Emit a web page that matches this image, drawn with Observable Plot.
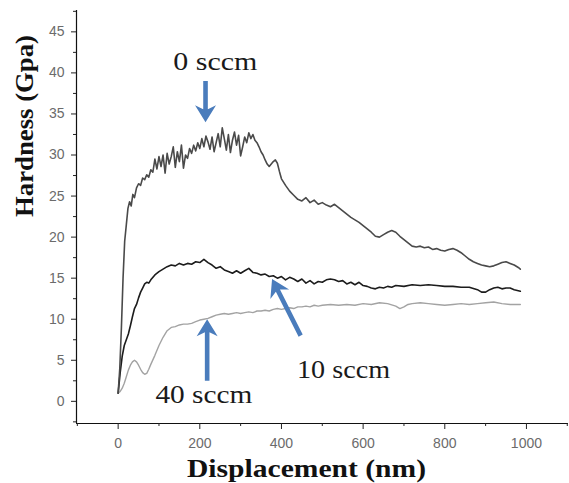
<!DOCTYPE html>
<html>
<head>
<meta charset="utf-8">
<script src="https://cdn.jsdelivr.net/npm/d3@7"></script>
<script src="https://cdn.jsdelivr.net/npm/@observablehq/plot@0.6"></script>
<style>
  html, body { margin: 0; padding: 0; background: #fff; }
  #chart { width: 569px; height: 483px; }
</style>
</head>
<body>
<div id="chart"></div>
<script>
// ---- Data ----
const disp0 = [0,4,8,12,16,20,24,28,32,36,40,45,50,55,60,65,70,75,80,85,90,95,100,105,110,115,120,125,130,135,140,145,150,155,160,165,170,175,180,185,190,195,200,205,210,215,220,225,230,235,240,245,250,255,260,265,270,275,280,285,290,295,300,305,310,315,320,325,330,335,340,345,350,355,360,365,370,375,380,385,390,395,400,410,420,430,440,450,460,470,480,490,500,510,520,530,540,550,560,570,580,590,600,610,620,630,640,650,660,670,680,690,700,710,720,730,740,750,760,770,780,790,800,810,820,830,840,850,860,870,880,890,900,910,920,930,940,950,960,970,980,985];
const hard0 = [1.0,4.0,9.0,15.0,19.5,21.5,23.5,24.3,23.8,25.2,24.8,26.0,26.5,26.3,27.2,27.0,27.6,27.3,28.2,27.9,29.5,28.3,29.8,28.6,30.0,27.8,30.2,28.9,29.8,31.0,28.5,30.4,29.2,31.2,28.4,30.0,29.6,30.8,30.2,31.2,30.5,31.5,30.8,32.0,31.0,32.3,31.6,30.7,32.2,30.4,31.5,32.6,31.0,33.3,32.0,30.6,32.5,30.3,31.8,32.8,31.2,32.4,29.9,31.0,32.2,31.5,32.7,32.0,32.5,31.8,31.5,31.0,30.4,30.0,29.4,28.9,28.6,28.9,29.2,29.4,29.0,28.0,27.1,26.3,25.6,25.1,24.6,24.4,24.8,24.2,24.5,24.0,24.2,23.9,23.7,24.0,23.6,23.2,22.8,22.4,22.1,21.8,21.4,21.0,20.6,20.1,20.0,20.3,20.6,20.8,20.6,20.1,19.7,19.3,18.9,18.8,18.9,18.7,18.8,18.5,18.6,18.4,18.3,18.5,18.6,18.4,18.1,17.7,17.3,17.0,16.8,16.6,16.5,16.4,16.5,16.7,16.9,17.0,16.8,16.6,16.3,16.1];

const disp10 = [0,5,10,15,20,25,30,35,40,45,50,55,60,65,70,75,80,90,100,110,120,130,140,150,160,170,180,190,200,210,220,230,240,250,260,270,280,290,300,310,320,330,340,350,360,370,380,390,400,410,420,430,440,450,460,470,480,490,500,510,520,530,540,550,560,570,580,590,600,610,620,630,640,650,660,670,680,700,720,740,760,780,800,820,840,860,880,890,900,910,920,930,940,950,960,970,985];
const hard10 = [1.0,3.5,5.5,6.8,7.5,8.2,9.2,10.3,11.3,11.8,12.6,13.3,13.8,14.3,14.5,14.4,14.8,15.4,15.8,16.1,16.4,16.6,16.5,16.8,16.6,16.8,16.7,17.0,16.9,17.3,16.9,16.6,16.2,16.4,16.0,15.8,15.6,15.9,15.6,15.9,16.2,15.7,15.6,15.4,15.5,15.2,15.3,15.0,15.2,14.8,15.1,14.9,14.6,14.9,14.4,14.7,14.3,14.6,14.5,14.8,14.9,14.8,14.6,14.7,14.3,14.5,14.2,14.5,14.1,14.0,13.8,13.7,13.9,13.8,14.0,13.9,14.1,14.0,14.2,14.1,14.2,14.1,14.0,14.0,13.9,13.9,13.6,13.3,13.3,13.6,13.8,13.9,13.7,13.8,13.8,13.6,13.4];

const disp40 = [0,5,10,15,20,25,30,35,40,45,50,55,60,65,70,75,80,90,100,110,120,130,140,150,160,170,180,190,200,210,220,230,240,250,260,270,280,290,300,310,320,330,340,350,360,370,380,390,400,410,420,430,440,450,460,470,480,490,500,520,540,560,580,600,620,640,660,680,690,700,710,720,740,760,780,800,820,840,860,880,900,920,940,960,985];
const hard40 = [1.0,1.2,1.6,2.2,3.0,3.8,4.4,4.8,5.0,4.8,4.4,3.9,3.5,3.3,3.4,3.9,4.5,5.6,6.8,7.8,8.6,9.0,9.1,9.3,9.4,9.4,9.5,9.7,9.9,10.0,10.1,10.3,10.5,10.6,10.7,10.6,10.7,10.8,10.7,10.8,10.9,10.8,11.0,11.0,11.1,11.0,11.2,11.3,11.2,11.3,11.4,11.3,11.5,11.5,11.6,11.5,11.7,11.6,11.7,11.8,11.7,11.8,11.7,11.9,11.8,12.0,11.9,11.6,11.3,11.5,11.8,11.9,12.0,11.9,11.8,11.7,11.8,11.9,11.8,11.9,12.0,12.1,11.9,11.8,11.8];

const xTicks = [0, 200, 400, 600, 800, 1000];
const xMinor = [-100, 100, 300, 500, 700, 900, 1100];
const yTicks = [0, 5, 10, 15, 20, 25, 30, 35, 40, 45];
const yMinor = [-2.5, 2.5, 7.5, 12.5, 17.5, 22.5, 27.5, 32.5, 37.5, 42.5, 47.5];

const labels = ["0 sccm", "10 sccm", "40 sccm"];
const labelX = [238, 552, 210];
const labelY = [41.3, 3.8, 0.8];
// arrow tails (1) and tips (2)
const arrowX1 = [214, 447, 218];
const arrowY1 = [39.0, 8.0, 2.5];
const arrowX2 = [214, 377, 218];
const arrowY2 = [34.0, 14.9, 10.0];

const xTitle = "Displacement (nm)";
const yTitle = "Hardness (Gpa)";

// ---- Layout ----
const W = 569, H = 483;
const mL = 76, mR = 1, mT = 10, mB = 60;
const xDom = [-102, 1103];
const yDom = [-2.7, 47.6];
const serif = "'Liberation Serif', 'Times New Roman', serif";
const sans = "'Liberation Sans', Arial, sans-serif";
const blue = "#4a7cbc";

// standalone scales, used only to orient the arrow glyphs
const sx = Plot.scale({x: {domain: xDom, range: [mL, W - mR]}});
const sy = Plot.scale({y: {domain: yDom, range: [H - mB, mT]}});

// ---- Build tables ----
const s0 = disp0.map((d, i) => ({x: d, y: hard0[i]}));
const s10 = disp10.map((d, i) => ({x: d, y: hard10[i]}));
const s40 = disp40.map((d, i) => ({x: d, y: hard40[i]}));
const ann = labels.map((t, i) => ({t, x: labelX[i], y: labelY[i]}));
const arrows = labels.map((t, i) => {
  const dx = sx.apply(arrowX2[i]) - sx.apply(arrowX1[i]);
  const dy = sy.apply(arrowY2[i]) - sy.apply(arrowY1[i]);
  return {
    x: arrowX2[i], y: arrowY2[i],
    len: Math.hypot(dx, dy),
    rot: Math.atan2(dx, -dy) * 180 / Math.PI
  };
});

// filled arrow with a swept-back (stealth) head, drawn pointing up, tip at (0,-l)
const blockArrow = {
  draw(ctx, l) {
    const sw = 2.3, hw = 10.5, hl = 17, notch = 4;
    ctx.moveTo(-sw, 0);
    ctx.lineTo(-sw, -l + hl - notch);
    ctx.lineTo(-hw, -l + hl);
    ctx.lineTo(0, -l);
    ctx.lineTo(hw, -l + hl);
    ctx.lineTo(sw, -l + hl - notch);
    ctx.lineTo(sw, 0);
    ctx.closePath();
  }
};

const chart = Plot.plot({
  width: W,
  height: H,
  marginLeft: mL,
  marginRight: mR,
  marginTop: mT,
  marginBottom: mB,
  style: {background: "#fff", overflow: "visible"},
  x: {domain: xDom, axis: null},
  y: {domain: yDom, axis: null},
  length: {type: "identity"},
  marks: [
    Plot.ruleY([yDom[0]], {stroke: "#111", strokeWidth: 1.2}),
    Plot.ruleX([xDom[0]], {stroke: "#111", strokeWidth: 1.2}),
    Plot.axisX({ticks: xTicks, tickSize: 6, tickFormat: () => "", stroke: "#222", label: null}),
    Plot.axisX({ticks: xMinor, tickSize: 3, tickFormat: () => "", stroke: "#222", label: null}),
    Plot.axisX({ticks: xTicks, tickSize: 0, tickPadding: 15, tickFormat: d3.format("d"), fill: "#6b6b6b", fontSize: 14, fontFamily: sans, label: null}),
    Plot.axisY({ticks: yTicks, tickSize: 5, tickFormat: () => "", stroke: "#222", label: null}),
    Plot.axisY({ticks: yMinor, tickSize: 3, tickFormat: () => "", stroke: "#222", label: null}),
    Plot.axisY({ticks: yTicks, tickSize: 0, tickPadding: 12, tickFormat: d3.format("d"), fill: "#6b6b6b", fontSize: 14, fontFamily: sans, label: null}),
    Plot.line(s40, {x: "x", y: "y", stroke: "#a3a3a3", strokeWidth: 1.4}),
    Plot.line(s10, {x: "x", y: "y", stroke: "#1c1c1c", strokeWidth: 1.6}),
    Plot.line(s0, {x: "x", y: "y", stroke: "#4a4a4a", strokeWidth: 1.6}),
    Plot.vector(arrows, {x: "x", y: "y", length: "len", rotate: "rot", anchor: "end", shape: blockArrow, fill: blue, stroke: "none"}),
    Plot.text(ann, {x: "x", y: "y", text: "t", fontSize: 25, fontFamily: serif, fill: "#1a1a1a"}),
    Plot.text([xTitle], {frameAnchor: "bottom", dx: -16, dy: 53, fontSize: 25, fontWeight: "bold", fontFamily: serif, fill: "#111"}),
    Plot.text([yTitle], {frameAnchor: "left", dx: -52, rotate: -90, fontSize: 25, fontWeight: "bold", fontFamily: serif, fill: "#111"})
  ]
});

// horizontally stretch serif labels to the reference's widths
const widths = {"0 sccm": 84, "10 sccm": 93, "40 sccm": 97, [xTitle]: 239, [yTitle]: 182};
chart.querySelectorAll("text").forEach(t => {
  const w = widths[t.textContent];
  if (w) { t.setAttribute("textLength", w); t.setAttribute("lengthAdjust", "spacingAndGlyphs"); }
});

document.getElementById("chart").appendChild(chart);
</script>
</body>
</html>
